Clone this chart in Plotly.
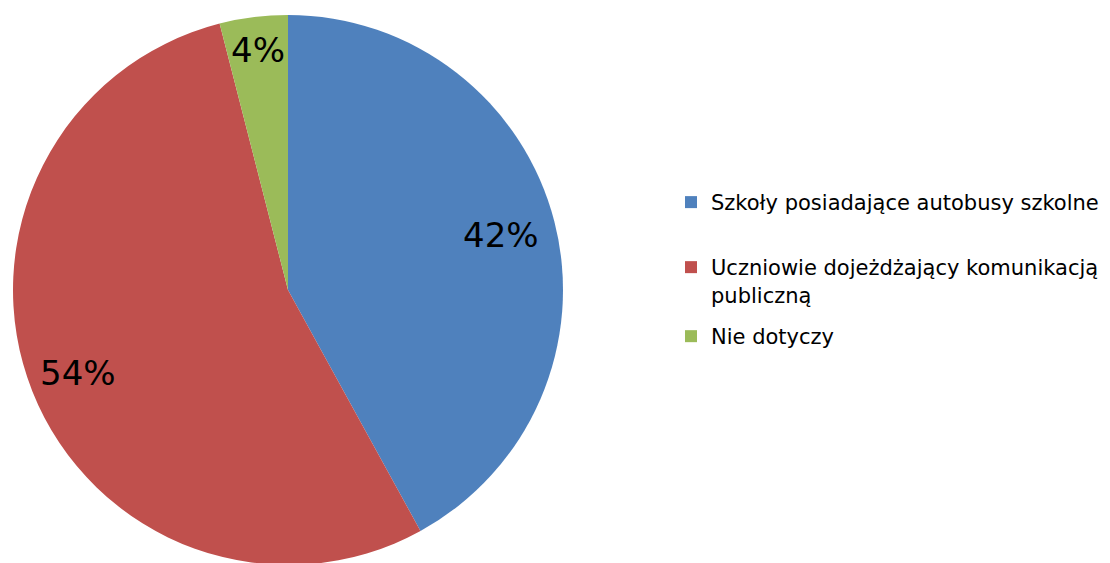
import math
import plotly.graph_objects as go

labels = ["Szkoły posiadające autobusy szkolne",
          "Uczniowie dojeżdżający komunikacją<br>publiczną",
          "Nie dotyczy"]
values = [42, 54, 4]
colors = ["#4F81BD", "#C0504D", "#9BBB59"]

# radial position of the percent labels (fraction of radius)
label_r = [0.80, 0.82, 0.88]
# vertical position of each legend entry (paper coords, top of entry)
legend_y = [0.691, 0.5755, 0.4529]

W, H = 1110, 563
dom_x = [0.0045, 0.5]
dom_y = [0.0107, 0.9876]

fig = go.Figure()
fig.add_trace(go.Pie(
    labels=labels, values=values,
    marker=dict(colors=colors, line=dict(width=0)),
    sort=False, direction="clockwise", rotation=0,
    textinfo="none", hoverinfo="label+percent",
    showlegend=False,
    domain=dict(x=dom_x, y=dom_y),
))

# legend entries, each in its own legend so they can be spaced like the original
legend_layout = {}
for i, (lab, col) in enumerate(zip(labels, colors)):
    key = "legend" if i == 0 else f"legend{i + 1}"
    fig.add_trace(go.Scatter(
        x=[None], y=[None], mode="markers", name=lab,
        legend=key,
        marker=dict(symbol="square", size=12, color=col),
    ))
    legend_layout[key] = dict(
        x=0.5973, y=legend_y[i], xanchor="left", yanchor="top",
        font=dict(size=21, color="#000000"),
        valign="top", bgcolor="rgba(0,0,0,0)",
        itemclick=False, itemdoubleclick=False,
    )

# percent labels placed around the pie centre
cx = (dom_x[0] + dom_x[1]) / 2 * W
cy = (dom_y[0] + dom_y[1]) / 2 * H
rad = min((dom_x[1] - dom_x[0]) * W, (dom_y[1] - dom_y[0]) * H) / 2
total = sum(values)
cum = 0
for v, fr in zip(values, label_r):
    mid = (cum + v / 2) / total * 2 * math.pi
    cum += v
    px_ = cx + fr * rad * math.sin(mid)
    py_ = cy + fr * rad * math.cos(mid)
    fig.add_annotation(
        x=px_ / W, y=py_ / H, xref="paper", yref="paper",
        xanchor="center", yanchor="middle",
        text=f"{round(v / total * 100)}%", showarrow=False,
        font=dict(size=34, color="#000000", family="DejaVu Sans"),
    )

fig.update_layout(
    width=W, height=H,
    margin=dict(l=0, r=0, t=0, b=0),
    paper_bgcolor="white", plot_bgcolor="white",
    xaxis=dict(visible=False), yaxis=dict(visible=False),
    font=dict(family="DejaVu Sans", color="#000000"),
    **legend_layout,
)

fig.write_html("out.html")
